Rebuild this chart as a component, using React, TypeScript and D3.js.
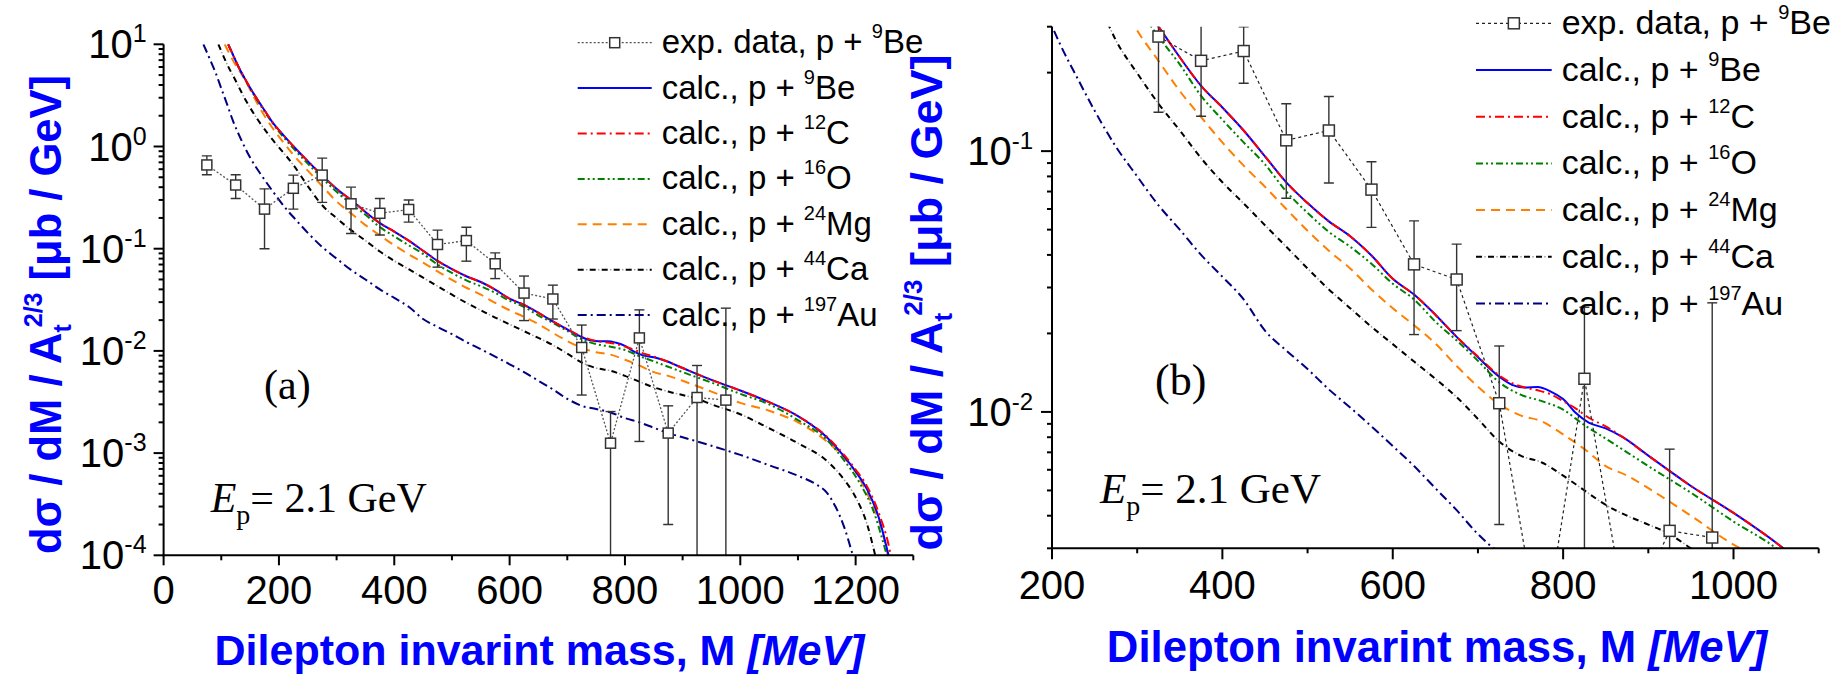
import React from "react";
import * as d3 from "d3";

// ---------------- data ----------------
// experimental data, p + 9Be (M in MeV, dσ/dM/A^(2/3) in μb/GeV)
const expM = [75, 125, 175, 225, 275, 325, 375, 425, 475, 525, 575, 625, 675, 725, 775, 825, 875, 925, 975];
const expVal = [0.66, 0.42, 0.244, 0.39, 0.525, 0.275, 0.222, 0.242, 0.11, 0.12, 0.0712, 0.0368, 0.0322, 0.0108, 0.00125, 0.0134, 0.00157, 0.0035, 0.0033];
const expLow = [0.53, 0.31, 0.1, 0.244, 0.284, 0.141, 0.136, 0.182, 0.066, 0.0755, 0.051, 0.0198, 0.0205, 0.0037, 0, 0.0013, 0.0002, 0, 0];
const expHigh = [0.81, 0.53, 0.385, 0.525, 0.77, 0.4, 0.31, 0.3, 0.152, 0.162, 0.091, 0.054, 0.044, 0.0179, 0.00255, 0.0252, 0.0029, 0.0072, 0.0262];

// calc., p + 9Be
const beM = [112, 120, 130, 140, 150, 160, 175, 190, 210, 230, 250, 275, 300, 325, 350, 375, 400, 425, 450, 475, 500, 525, 550, 575, 600, 625, 650, 675, 700, 725, 740, 755, 770, 785, 800, 815, 830, 850, 870, 900, 950, 1000, 1050, 1100, 1150, 1180, 1200, 1220, 1240, 1258];
const beVal = [10, 7.98, 6.0, 4.72, 3.76, 3.04, 2.26, 1.69, 1.25, 0.94, 0.72, 0.52, 0.385, 0.3, 0.229, 0.178, 0.147, 0.12, 0.0955, 0.0759, 0.0632, 0.0538, 0.0472, 0.0398, 0.0324, 0.0282, 0.0236, 0.0194, 0.0162, 0.01365, 0.0127, 0.0124, 0.01245, 0.012, 0.0112, 0.0099, 0.0091, 0.00865, 0.008, 0.0068, 0.0052, 0.0041, 0.00315, 0.0023, 0.00143, 0.00093, 0.00066, 0.00044, 0.000235, 0.000095];

// calc., p + 12C
const cM = [112, 120, 130, 140, 150, 160, 175, 190, 210, 230, 250, 275, 300, 325, 350, 375, 400, 425, 450, 475, 500, 525, 550, 575, 600, 625, 650, 675, 700, 725, 740, 755, 770, 785, 800, 815, 830, 850, 870, 900, 950, 1000, 1050, 1100, 1150, 1180, 1200, 1220, 1240, 1258, 1264];
const cVal = [10, 7.98, 6.0, 4.72, 3.76, 3.04, 2.26, 1.69, 1.25, 0.94, 0.72, 0.52, 0.385, 0.3, 0.229, 0.178, 0.147, 0.12, 0.0955, 0.0759, 0.0632, 0.0538, 0.0472, 0.0398, 0.0324, 0.0282, 0.0236, 0.0194, 0.0163, 0.0138, 0.0129, 0.0124, 0.0121, 0.0117, 0.011, 0.0103, 0.0095, 0.0088, 0.008, 0.0068, 0.0052, 0.0041, 0.00315, 0.0023, 0.00145, 0.00096, 0.00069, 0.00047, 0.00026, 0.00012, 0.00008];

// calc., p + 16O
const oM = [112, 130, 150, 175, 200, 225, 250, 275, 300, 325, 350, 375, 400, 425, 450, 475, 500, 525, 550, 575, 600, 625, 650, 675, 700, 725, 750, 775, 800, 825, 850, 875, 900, 950, 1000, 1050, 1100, 1150, 1180, 1207, 1230, 1254];
const oVal = [10, 6.0, 3.7, 2.2, 1.4, 0.96, 0.68, 0.49, 0.36, 0.275, 0.215, 0.163, 0.132, 0.108, 0.089, 0.07, 0.058, 0.049, 0.043, 0.037, 0.031, 0.027, 0.0222, 0.0188, 0.0157, 0.013, 0.01165, 0.011, 0.0102, 0.0089, 0.0079, 0.007, 0.0062, 0.0049, 0.0038, 0.003, 0.0021, 0.00135, 0.00085, 0.00051, 0.00028, 0.0001];

// calc., p + 24Mg
const mgM = [106, 120, 140, 160, 180, 200, 225, 250, 275, 300, 325, 350, 375, 400, 425, 450, 475, 500, 525, 550, 575, 600, 625, 650, 675, 700, 725, 750, 775, 800, 825, 850, 875, 900, 950, 1000, 1050, 1100, 1150, 1180, 1200, 1225, 1245, 1256];
const mgVal = [10, 7.0, 4.6, 2.8, 1.8, 1.25, 0.83, 0.58, 0.41, 0.29, 0.222, 0.17, 0.135, 0.108, 0.088, 0.073, 0.06, 0.0495, 0.0415, 0.0355, 0.0295, 0.025, 0.0215, 0.0183, 0.015, 0.0125, 0.0107, 0.0097, 0.0092, 0.0082, 0.0072, 0.0062, 0.0057, 0.0051, 0.004, 0.0031, 0.0026, 0.002, 0.0013, 0.0009, 0.00065, 0.00035, 0.00018, 0.0001];

// calc., p + 44Ca
const caM = [95, 110, 125, 140, 160, 180, 200, 225, 250, 275, 300, 325, 350, 375, 400, 425, 450, 475, 500, 525, 550, 575, 600, 625, 650, 675, 700, 725, 750, 775, 800, 825, 850, 875, 900, 925, 950, 1000, 1050, 1100, 1150, 1180, 1200, 1220, 1234];
const caVal = [10, 6.4, 4.4, 3.0, 1.95, 1.35, 0.98, 0.66, 0.41, 0.266, 0.199, 0.152, 0.12, 0.094, 0.076, 0.063, 0.052, 0.043, 0.0355, 0.0295, 0.025, 0.0212, 0.0182, 0.0156, 0.0134, 0.0114, 0.0094, 0.0077, 0.0068, 0.0064, 0.0057, 0.005, 0.0044, 0.004, 0.0037, 0.0034, 0.003, 0.0024, 0.00175, 0.00125, 0.00084, 0.00055, 0.00037, 0.0002, 0.0001];

// calc., p + 197Au
const auM = [69, 80, 90, 100, 110, 120, 135, 150, 170, 190, 210, 230, 250, 275, 300, 325, 350, 375, 400, 425, 450, 475, 500, 525, 550, 575, 600, 625, 650, 675, 700, 725, 750, 775, 800, 825, 850, 875, 900, 950, 1000, 1050, 1100, 1130, 1150, 1165, 1180, 1193, 1200];
const auVal = [10, 7.2, 5.3, 3.7, 2.6, 1.8, 1.15, 0.78, 0.52, 0.36, 0.255, 0.19, 0.143, 0.104, 0.08, 0.062, 0.05, 0.04, 0.033, 0.027, 0.0205, 0.0172, 0.0146, 0.0122, 0.0104, 0.0088, 0.0074, 0.0062, 0.0051, 0.0042, 0.0034, 0.0029, 0.0027, 0.0025, 0.0022, 0.002, 0.00177, 0.00157, 0.00143, 0.00118, 0.00096, 0.00076, 0.0006, 0.0005, 0.00041, 0.0003, 0.00019, 0.00011, 0.00008];

// legend texts
const legendPrefix = ["exp. data, p + ", "calc., p + ", "calc., p + ", "calc., p + ", "calc., p + ", "calc., p + ", "calc., p + "];
const legendMass = ["9", "9", "12", "16", "24", "44", "197"];
const legendElem = ["Be", "Be", "C", "O", "Mg", "Ca", "Au"];

const xTitleMain = "Dilepton invarint mass, M ";
const xTitleUnit = "[MeV]";

// ---------------- styles ----------------
type Stroke = { color: string; width: number; dash?: string; offset?: number };
const SANS = "'Liberation Sans', Arial, Helvetica, sans-serif";
const SERIF = "'Liberation Serif', 'Times New Roman', serif";

const calcSeries: { m: number[]; v: number[]; strokes: Stroke[] }[] = [
  { m: auM, v: auVal, strokes: [{ color: "#000080", width: 2, dash: "9,4,2,4" }] },
  {
    m: caM,
    v: caVal,
    strokes: [
      { color: "#000000", width: 2, dash: "6,6" },
      { color: "#a0a0a0", width: 1.5, dash: "1.5,10.5", offset: -8.25 },
    ],
  },
  { m: mgM, v: mgVal, strokes: [{ color: "#ff8000", width: 2, dash: "9,6" }] },
  { m: oM, v: oVal, strokes: [{ color: "#008000", width: 2, dash: "7,3,2,3,2,3" }] },
  { m: beM, v: beVal, strokes: [{ color: "#0000ff", width: 2 }] },
  { m: cM, v: cVal, strokes: [{ color: "#ff0000", width: 2, dash: "9,4,2,4" }] },
];
// legend order: Be, C, O, Mg, Ca, Au
const legendStrokes: Stroke[][] = [
  calcSeries[4].strokes,
  calcSeries[5].strokes,
  calcSeries[3].strokes,
  calcSeries[2].strokes,
  calcSeries[1].strokes,
  calcSeries[0].strokes,
];

type Cfg = {
  id: string;
  left: number; right: number; top: number; bottom: number;
  xDomain: [number, number]; yDomain: [number, number];
  xMajor: number[]; xMinor: number[];
  majLen: number; minLen: number;
  tickSize: number; xLabelY: number; yLabelGap: number; supSize: number; supDy: number;
  xTitleX: number; xTitleY: number; xTitleSize: number;
  yTitleX: number; yTitleY: number; yTitleSize: number;
  legX1: number; legX2: number; legTextX: number; legY0: number; legStep: number; legSize: number; legSup: number; legBase: number;
  expStroke: Stroke; markerSize: number; expFirst: number;
  tag: string; tagX: number; tagY: number; tagSize: number;
  epX: number; epY: number; epSize: number;
};

const panelA: Cfg = {
  id: "a",
  left: 163.6, right: 913.3, top: 44.3, bottom: 555.3,
  xDomain: [0, 1300], yDomain: [1e-4, 10],
  xMajor: [0, 200, 400, 600, 800, 1000, 1200], xMinor: [100, 300, 500, 700, 900, 1100, 1300],
  majLen: 10, minLen: 5,
  tickSize: 40, xLabelY: 604, yLabelGap: 17, supSize: 25, supDy: -16,
  xTitleX: 539.5, xTitleY: 665, xTitleSize: 43,
  yTitleX: 61, yTitleY: 314.5, yTitleSize: 43.5,
  legX1: 577.7, legX2: 651.7, legTextX: 661.7, legY0: 42.7, legStep: 45.4, legSize: 33, legSup: 20, legBase: 10.5,
  expStroke: { color: "#555", width: 1.3, dash: "2,2" }, markerSize: 10, expFirst: 0,
  tag: "(a)", tagX: 264, tagY: 399, tagSize: 42,
  epX: 210.7, epY: 511.7, epSize: 42,
};

const panelB: Cfg = {
  id: "b",
  left: 1052, right: 1818.7, top: 26.7, bottom: 548.3,
  xDomain: [200, 1100], yDomain: [0.003, 0.3],
  xMajor: [200, 400, 600, 800, 1000], xMinor: [300, 500, 700, 900, 1100],
  majLen: 11, minLen: 5,
  tickSize: 40, xLabelY: 599, yLabelGap: 19, supSize: 24, supDy: -16,
  xTitleX: 1437, xTitleY: 662, xTitleSize: 43.7,
  yTitleX: 942, yTitleY: 302.5, yTitleSize: 45,
  legX1: 1476, legX2: 1551.7, legTextX: 1561.7, legY0: 23.3, legStep: 46.7, legSize: 34, legSup: 20, legBase: 11,
  expStroke: { color: "#222", width: 1.2, dash: "3,3" }, markerSize: 11, expFirst: 5,
  tag: "(b)", tagX: 1155, tagY: 395, tagSize: 44,
  epX: 1100, epY: 503.3, epSize: 43,
};

function StrokePath({ d, s }: { d: string; s: Stroke }) {
  return (
    <path
      d={d}
      fill="none"
      stroke={s.color}
      strokeWidth={s.width}
      strokeDasharray={s.dash}
      strokeDashoffset={s.offset}
    />
  );
}

function Panel({ c }: { c: Cfg }) {
  const x = d3.scaleLinear().domain(c.xDomain).range([c.left, c.right]);
  const y = d3.scaleLog().domain(c.yDomain).range([c.bottom, c.top]);
  const curve = d3
    .line<[number, number]>()
    .x((d) => x(d[0]))
    .y((d) => y(d[1]))
    .curve(d3.curveMonotoneX);
  const straight = d3
    .line<[number, number]>()
    .x((d) => x(d[0]))
    .y((d) => y(d[1]));

  const yTicks = y.ticks();
  const isMajor = (v: number) => Math.abs(Math.log10(v) - Math.round(Math.log10(v))) < 1e-6;
  const clip = `clip-${c.id}`;
  const ms = c.markerSize;

  const idx = expM.map((_, i) => i).filter((i) => i >= c.expFirst);
  const expPts: [number, number][] = idx.map((i) => [expM[i], expVal[i]]);
  const yOf = (v: number) => (v > 0 ? y(v) : c.bottom + 20);

  const ySub = Math.round(c.yTitleSize * 0.58);

  return (
    <g>
      <defs>
        <clipPath id={clip}>
          <rect x={c.left} y={c.top} width={c.right - c.left} height={c.bottom - c.top} />
        </clipPath>
      </defs>

      {/* curves */}
      <g clipPath={`url(#${clip})`}>
        {calcSeries.map((s, i) => {
          const d = curve(s.m.map((m, k) => [m, s.v[k]] as [number, number])) || "";
          return (
            <g key={i}>
              {s.strokes.map((st, j) => (
                <StrokePath key={j} d={d} s={st} />
              ))}
            </g>
          );
        })}
        {/* experimental data */}
        <StrokePath d={straight(expPts) || ""} s={c.expStroke} />
        {idx.map((i) => {
          const cx = x(expM[i]);
          const yl = yOf(expLow[i]);
          const yh = y(expHigh[i]);
          return (
            <g key={i} stroke="#333" strokeWidth={1.4}>
              <line x1={cx} x2={cx} y1={yl} y2={yh} />
              <line x1={cx - 5} x2={cx + 5} y1={yh} y2={yh} />
              {expLow[i] > 0 && <line x1={cx - 5} x2={cx + 5} y1={yl} y2={yl} />}
            </g>
          );
        })}
        {idx.map((i) => (
          <rect
            key={i}
            x={x(expM[i]) - ms / 2}
            y={y(expVal[i]) - ms / 2}
            width={ms}
            height={ms}
            fill="#fff"
            stroke="#333"
            strokeWidth={1.5}
          />
        ))}
      </g>

      {/* axes */}
      <g stroke="#000" strokeWidth={2}>
        <line x1={c.left} x2={c.left} y1={c.top} y2={c.bottom + 1} />
        <line x1={c.left - 1} x2={c.right} y1={c.bottom} y2={c.bottom} />
        {c.xMajor.map((v) => (
          <line key={"M" + v} x1={x(v)} x2={x(v)} y1={c.bottom} y2={c.bottom + c.majLen} />
        ))}
        {c.xMinor.map((v) => (
          <line key={"m" + v} x1={x(v)} x2={x(v)} y1={c.bottom} y2={c.bottom + c.minLen} />
        ))}
        {yTicks.map((v, i) => (
          <line
            key={"y" + i}
            x1={c.left - (isMajor(v) ? c.majLen : c.minLen)}
            x2={c.left}
            y1={y(v)}
            y2={y(v)}
          />
        ))}
      </g>

      {/* tick labels */}
      <g fontFamily={SANS} fontSize={c.tickSize} fill="#000">
        {c.xMajor.map((v) => (
          <text key={v} x={x(v)} y={c.xLabelY} textAnchor="middle">
            {v}
          </text>
        ))}
        {yTicks.filter(isMajor).map((v, i) => (
          <text key={i} x={c.left - c.yLabelGap} y={y(v) + 14} textAnchor="end">
            10
            <tspan dy={c.supDy} fontSize={c.supSize}>
              {String(Math.round(Math.log10(v)))}
            </tspan>
          </text>
        ))}
      </g>

      {/* axis titles */}
      <text
        x={c.xTitleX}
        y={c.xTitleY}
        textAnchor="middle"
        fontFamily={SANS}
        fontWeight="bold"
        fontSize={c.xTitleSize}
        fill="#0000ff"
        style={{ whiteSpace: "pre" }}
      >
        {xTitleMain}
        <tspan fontStyle="italic">{xTitleUnit}</tspan>
      </text>
      <text
        transform={`translate(${c.yTitleX},${c.yTitleY}) rotate(-90)`}
        textAnchor="middle"
        fontFamily={SANS}
        fontWeight="bold"
        fontSize={c.yTitleSize}
        fill="#0000ff"
        style={{ whiteSpace: "pre" }}
      >
        {"dσ / dM / A"}
        <tspan dy={c.yTitleSize * 0.22} fontSize={ySub}>t</tspan>
        <tspan dx={-3} dy={-c.yTitleSize * 0.66} fontSize={ySub}>2/3</tspan>
        <tspan dy={c.yTitleSize * 0.44}>{" [μb / GeV]"}</tspan>
      </text>

      {/* legend */}
      {legendPrefix.map((pre, i) => {
        const ly = c.legY0 + i * c.legStep;
        const d = `M${c.legX1},${ly}L${c.legX2},${ly}`;
        const mid = (c.legX1 + c.legX2) / 2;
        return (
          <g key={i}>
            {i === 0 ? (
              <g>
                <StrokePath d={d} s={c.expStroke} />
                <rect x={mid - ms / 2} y={ly - ms / 2} width={ms} height={ms} fill="#fff" stroke="#333" strokeWidth={1.5} />
              </g>
            ) : (
              legendStrokes[i - 1].map((st, j) => <StrokePath key={j} d={d} s={st} />)
            )}
            <text
              x={c.legTextX}
              y={ly + c.legBase}
              fontFamily={SANS}
              fontSize={c.legSize}
              fill="#000"
              style={{ whiteSpace: "pre" }}
            >
              {pre}
              <tspan dy={-15} fontSize={c.legSup}>{legendMass[i]}</tspan>
              <tspan dy={15}>{legendElem[i]}</tspan>
            </text>
          </g>
        );
      })}

      {/* annotations */}
      <text x={c.tagX} y={c.tagY} fontFamily={SERIF} fontSize={c.tagSize} fill="#000">
        {c.tag}
      </text>
      <text x={c.epX} y={c.epY} fontFamily={SERIF} fontSize={c.epSize} fill="#000" style={{ whiteSpace: "pre" }}>
        <tspan fontStyle="italic">E</tspan>
        <tspan dy={12} fontSize={28}>p</tspan>
        <tspan dy={-12}>{"= 2.1 GeV"}</tspan>
      </text>
    </g>
  );
}

export default function App() {
  return (
    <svg
      width={1846}
      height={676}
      viewBox="0 0 1846 676"
      style={{ position: "absolute", left: 0, top: 0, background: "#fff" }}
    >
      <rect x={0} y={0} width={1846} height={676} fill="#fff" />
      <Panel c={panelA} />
      <Panel c={panelB} />
    </svg>
  );
}
